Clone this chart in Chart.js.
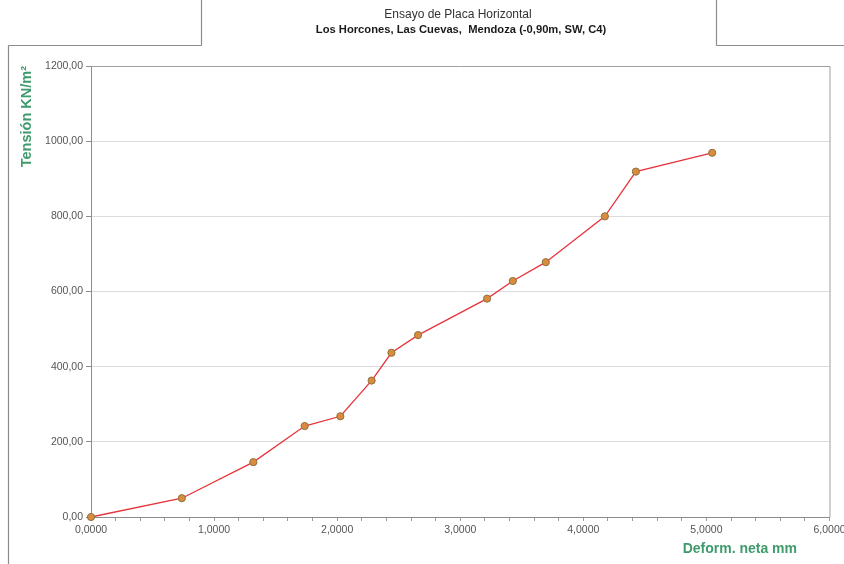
<!DOCTYPE html>
<html>
<head>
<meta charset="utf-8">
<script src="https://cdn.jsdelivr.net/npm/chart.js@4/dist/chart.umd.min.js"></script>
<style>
  html, body { margin: 0; padding: 0; background: #ffffff; }
  #wrap { width: 844px; height: 564px; position: relative; }
</style>
</head>
<body>
<div id="wrap"><canvas id="c" width="844" height="564"></canvas></div>
<script>
// Ensayo de placa: deformación neta (mm) vs tensión (KN/m²)
const deformacion = [0, 0.738, 1.319, 1.736, 2.026, 2.28, 2.441, 2.657, 3.218, 3.427, 3.695, 4.175, 4.427, 5.047];
const tension     = [0, 50, 146, 242, 268, 363, 437, 484, 581, 628, 678, 800, 919, 969];

const tituloLinea1 = 'Ensayo de Placa Horizontal';
const tituloLinea2 = 'Los Horcones, Las Cuevas,  Mendoza (-0,90m, SW, C4)';
const tituloEjeX = 'Deform. neta mm';
const tituloEjeY = 'Tensión KN/m²';

const puntos = deformacion.map((x, i) => ({ x: x, y: tension[i] }));

const FONT = '"Liberation Sans", Arial, sans-serif';
const VERDE = '#3f9a6c';

// Marco de la hoja, títulos y rótulos de ejes
const decoracion = {
  id: 'decoracion',
  beforeDraw(chart) {
    const ctx = chart.ctx;
    ctx.save();
    ctx.strokeStyle = '#8c8c8c';
    ctx.lineWidth = 1.2;
    ctx.beginPath();
    // recuadro del título
    ctx.moveTo(201.5, 0); ctx.lineTo(201.5, 45.5);
    ctx.moveTo(716.5, 0); ctx.lineTo(716.5, 45.5);
    ctx.moveTo(8.5, 45.5); ctx.lineTo(201.5, 45.5);
    ctx.moveTo(716.5, 45.5); ctx.lineTo(844, 45.5);
    // borde izquierdo del gráfico
    ctx.moveTo(8.5, 45.5); ctx.lineTo(8.5, 564);
    ctx.stroke();
    ctx.restore();
  },
  afterDraw(chart) {
    const ctx = chart.ctx;
    const a = chart.chartArea;
    ctx.save();
    // borde del área de trazado
    ctx.strokeStyle = '#a0a0a0';
    ctx.lineWidth = 1;
    ctx.beginPath();
    ctx.moveTo(a.left, a.top + 0.5); ctx.lineTo(a.right + 0.5, a.top + 0.5);
    ctx.lineTo(a.right + 0.5, a.bottom);
    ctx.stroke();

    // títulos
    ctx.fillStyle = '#333333';
    ctx.textAlign = 'center';
    ctx.textBaseline = 'middle';
    ctx.font = '12px ' + FONT;
    ctx.fillText(tituloLinea1, 458, 15);
    ctx.fillStyle = '#1a1a1a';
    ctx.font = 'bold 11.2px ' + FONT;
    ctx.fillText(tituloLinea2, 461, 30);

    // rótulo eje X
    ctx.fillStyle = VERDE;
    ctx.font = 'bold 14px ' + FONT;
    ctx.textAlign = 'right';
    ctx.fillText(tituloEjeX, 797, 549);

    // rótulo eje Y
    ctx.font = 'bold 14.5px ' + FONT;
    ctx.translate(27, 66);
    ctx.rotate(-Math.PI / 2);
    ctx.textAlign = 'right';
    ctx.fillText(tituloEjeY, 0, 0);
    ctx.restore();
  }
};

const fmt = (v, d) => v.toFixed(d).replace('.', ',');

new Chart(document.getElementById('c'), {
  type: 'scatter',
  data: {
    datasets: [{
      data: puntos,
      showLine: true,
      clip: false,
      borderColor: '#e8333c',
      borderWidth: 1.3,
      pointBackgroundColor: '#d98c3c',
      pointBorderColor: '#8f7040',
      pointBorderWidth: 1,
      pointRadius: 3.6,
      tension: 0
    }]
  },
  options: {
    responsive: false,
    animation: false,
    devicePixelRatio: 1,
    layout: { padding: { top: 66, right: 14.5, bottom: 17, left: 41 } },
    plugins: {
      legend: { display: false },
      tooltip: { enabled: false },
      title: { display: false }
    },
    scales: {
      x: {
        type: 'linear',
        min: 0,
        max: 6,
        afterBuildTicks(scale) {
          const t = [];
          for (let i = 0; i <= 30; i++) t.push({ value: i / 5 });
          scale.ticks = t;
        },
        afterFit(scale) {
          scale.height = 30;
          scale.paddingRight = 0;
          scale.paddingLeft = 0;
        },
        ticks: {
          autoSkip: false,
          maxRotation: 0,
          padding: 3,
          color: '#555555',
          font: { family: FONT, size: 10.5 },
          callback(v) {
            return Math.abs(v - Math.round(v)) < 1e-6 ? fmt(Math.round(v), 4) : '';
          }
        },
        grid: { drawOnChartArea: false, tickLength: 4, tickColor: '#9a9a9a' },
        border: { color: '#8c8c8c', width: 1 }
      },
      y: {
        type: 'linear',
        min: 0,
        max: 1200,
        afterFit(scale) { scale.width = 50; },
        ticks: {
          stepSize: 200,
          padding: 3,
          color: '#555555',
          font: { family: FONT, size: 10.5 },
          callback(v) { return fmt(v, 2); }
        },
        grid: { color: '#dcdcdc', tickLength: 5, tickColor: '#8c8c8c' },
        border: { color: '#8c8c8c', width: 1 }
      }
    }
  },
  plugins: [decoracion]
});
</script>
</body>
</html>
